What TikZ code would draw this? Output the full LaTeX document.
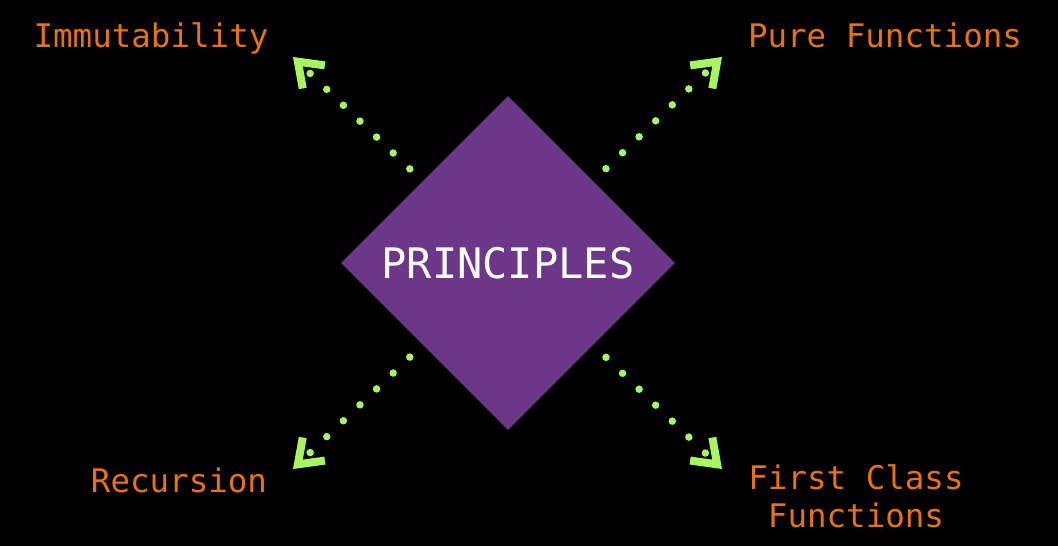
\documentclass[tikz,border=0pt]{standalone}
\usepackage{fontspec}
\setmonofont{DejaVu Sans Mono}
\usetikzlibrary{arrows.meta,shapes.geometric}

\definecolor{corepurple}{HTML}{6C3789}
\definecolor{topicorange}{HTML}{E8730C}
\definecolor{linkgreen}{HTML}{A7F55F}

\tikzset{
    topic/.style={font=\fontsize{32.5}{38}\selectfont\ttfamily, text=topicorange,
                  anchor=base, align=center, inner sep=0pt},
    link/.style={draw=linkgreen, line width=7.5pt, line cap=round,
                 dash pattern=on 0pt off 23pt, dash phase=2pt,
                 -{Straight Barb[length=22pt,width=32pt,line width=8pt,line cap=butt,line join=miter]}}
}

\begin{document}
\begin{tikzpicture}[x=1pt, y=-1pt]
    \path[fill=black] (0,0) rectangle (1058,546);

    \coordinate (hub) at (508,263);

    \foreach \n/ \x/ \y in {immTip/293/57, pureTip/722/57, recTip/293/469, firstTip/722/469}
        \coordinate (\n) at (\x,\y);

    \foreach \n in {immTip, pureTip, recTip, firstTip}
        \path[link] (hub) -- (\n);

    \node[diamond, aspect=1, minimum size=334pt, inner sep=0pt, fill=corepurple,
          text=white, font=\fontsize{42}{50}\selectfont\ttfamily] (core) at (hub) {PRINCIPLES};

    \node[topic] (imm) at (151,47) {Immutability};
    \node[topic] (pure) at (885,47) {Pure Functions};
    \node[topic] (rec) at (179,492) {Recursion};
    \node[topic] (first) at (856,527) {First Class\\Functions};

\end{tikzpicture}
\end{document}
